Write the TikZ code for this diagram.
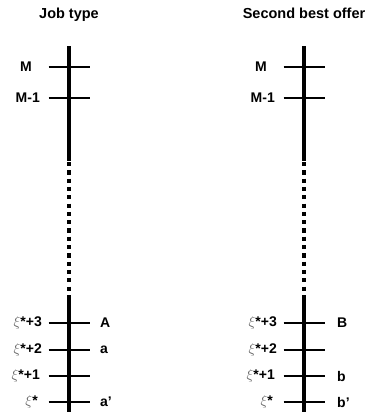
\documentclass[tikz,border=0pt]{standalone}
\usepackage{fontspec}
\setmainfont{Liberation Sans}
\newcommand\xistar{{\color{black!60}$\xi$}*}

\begin{document}
\begin{tikzpicture}[x=1pt,y=-1pt,
  title/.style={font=\fontsize{14.5}{15}\selectfont\bfseries, inner sep=0pt, anchor=base},
  lbl/.style={font=\fontsize{14}{15}\selectfont\bfseries, inner sep=0pt},
  axisline/.style={line width=4pt},
  tick/.style={line width=2.5pt}]
\useasboundingbox (0,0) rectangle (380,415);

% Two scales, the second one shifted to the right
\foreach \dx/\ttl/\tn in {0/Job type/job,235/Second best offer/sbo}{
\begin{scope}[xshift=\dx pt]
% title
\node[title] (\tn-title) at (69,18.5) {\ttl};
% vertical axis: solid, dotted, solid
\draw[axisline] (69,46) -- (69,161);
\draw[axisline, dash pattern=on 4.2pt off 4.1pt] (69,162) -- (69,291);
\draw[axisline] (69,295) -- (69,412);
% ticks
\foreach \y in {67,98,323,350,376,402}
  \draw[tick] (48.5,\y) -- (89.5,\y);
% values on the left
\node[lbl, anchor=east] (\tn-M) at (32,67) {M};
\node[lbl, anchor=east] (\tn-M1) at (40,98) {M-1};
\node[lbl, anchor=east] (\tn-x3) at (42,323) {\xistar+3};
\node[lbl, anchor=east] (\tn-x2) at (42,350) {\xistar+2};
\node[lbl, anchor=east] (\tn-x1) at (40,376) {\xistar+1};
\node[lbl, anchor=east] (\tn-x0) at (38,402) {\xistar};
\end{scope}}

% Labels on the right
\node[lbl, anchor=west] (jobA) at (100,323) {A};
\node[lbl, anchor=west] (joba) at (100,350) {a};
\node[lbl, anchor=west] (jobap) at (100,402) {a'};
\node[lbl, anchor=west] (sboB) at (337,323) {B};
\node[lbl, anchor=west] (sbob) at (337,376) {b};
\node[lbl, anchor=west] (sbobp) at (337,402) {b'};

\end{tikzpicture}
\end{document}
